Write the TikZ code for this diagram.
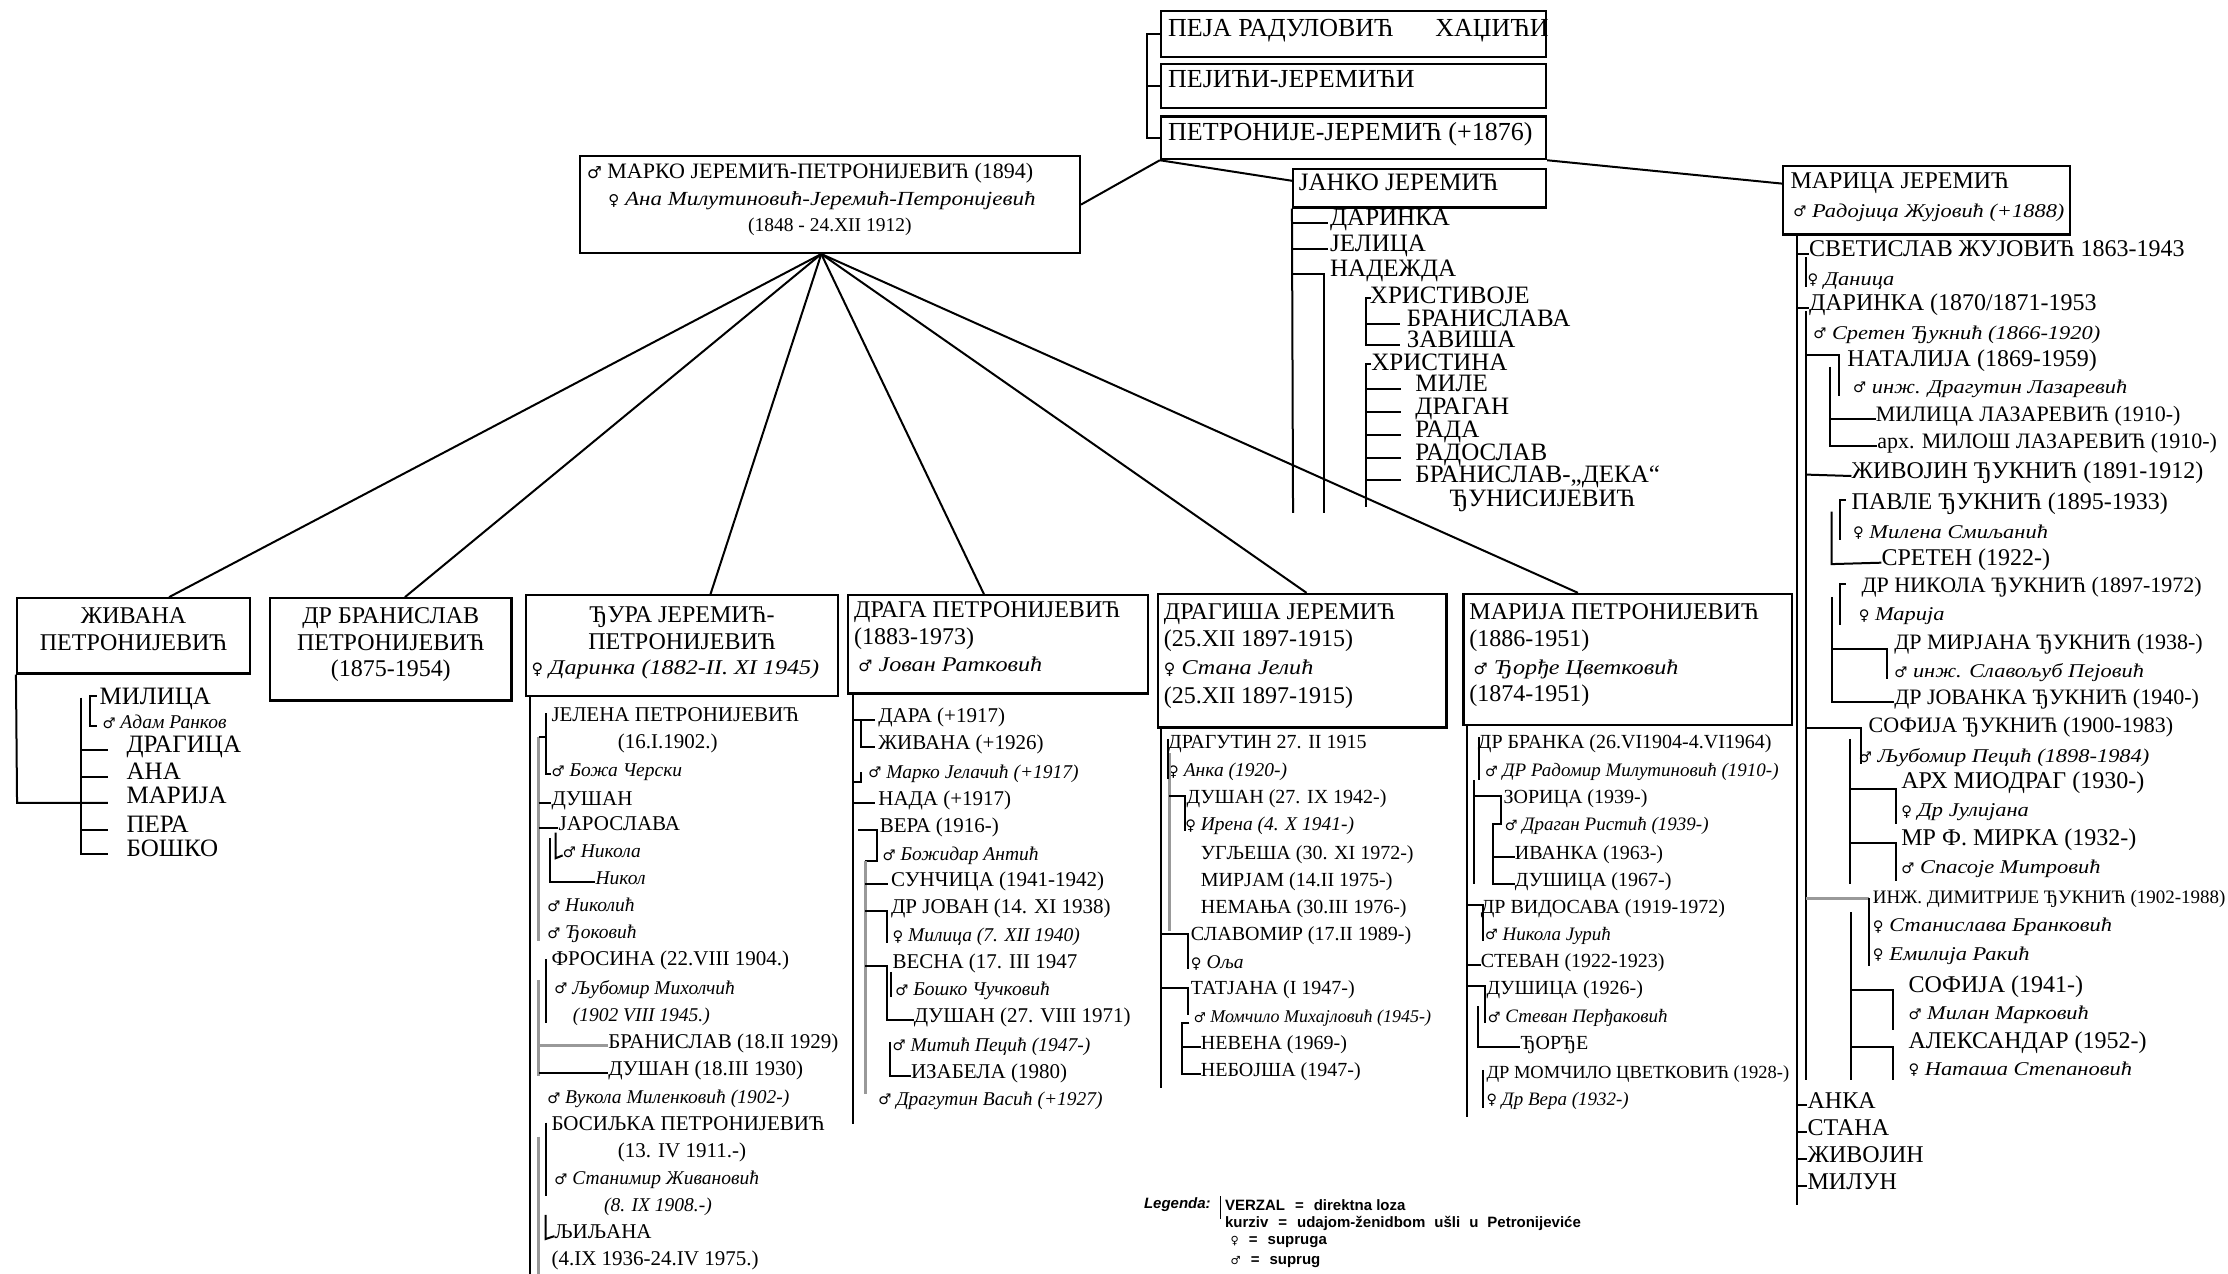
\documentclass[tikz,border=0pt]{standalone}
\usepackage{fontspec}
\usepackage{graphicx}
\setmainfont{Liberation Serif}
\newfontfamily\itf{Liberation Serif}[FakeStretch=1.15]
\newfontfamily\symf{DejaVu Sans}
\newfontfamily\legf{Liberation Sans}
\usetikzlibrary{fit,calc}
\newcommand{\zen}{\raisebox{0.05ex}{\scalebox{0.75}{\symf ♀}}}
\newcommand{\muz}{\raisebox{0.05ex}{\scalebox{0.75}{\symf ♂}}}
\tikzset{
  box/.style={draw, line width=2.2pt, inner sep=0pt},
  tx/.style={anchor=west, inner sep=0pt, text height=1.45ex, text depth=.35ex},
  nA/.style={tx, font=\fontsize{21}{21}\selectfont},
  nE/.style={tx, font=\fontsize{20}{20}\selectfont},
  sA/.style={tx, font=\fontsize{19.5}{19.5}\selectfont\itshape},
  nB/.style={tx, font=\fontsize{24}{24}\selectfont},
  nD/.style={tx, font=\fontsize{22}{22}\selectfont},
  nJ/.style={tx, font=\fontsize{25}{25}\selectfont},
  sB/.style={tx, font=\itf\fontsize{19.5}{19.5}\selectfont\itshape},
  nC/.style={tx, font=\fontsize{20}{20}\selectfont},
  nC2/.style={tx, font=\fontsize{19}{19}\selectfont},
  sC/.style={tx, font=\fontsize{19}{19}\selectfont\itshape},
  nX/.style={tx, font=\fontsize{24}{24}\selectfont},
  sX/.style={tx, font=\itf\fontsize{21}{21}\selectfont\itshape},
  nT/.style={tx, font=\fontsize{26}{26}\selectfont},
  ln/.style={line width=2pt},
  gl/.style={line width=3pt, black!40},
  lg/.style={anchor=west, inner sep=0pt, font=\legf\fontsize{15}{15}\selectfont\bfseries},
}
\begin{document}
\begin{tikzpicture}[x=1.421pt,y=-1.421pt]
\fill[white] (0,0) rectangle (1568,896);
\useasboundingbox (0,0) rectangle (1568,896);

% ---------- top boxes
\node[box, fit={(817,8)(1088,40)}] (b1) {};
\node[box, fit={(817,45)(1088,76)}] (b2) {};
\node[box, fit={(817,82)(1088,112)}] (b3) {};
\node[nT] (b1t) at (822,24) {ПЕЈА РАДУЛОВИЋ\hspace{42pt}ХАЏИЋИ};
\node[nT] (b2t) at (822,60) {ПЕЈИЋИ-ЈЕРЕМИЋИ};
\node[nT] (b3t) at (822,97) {ПЕТРОНИЈЕ-ЈЕРЕМИЋ (+1876)};
\draw[ln] (b1.west) -- ++(-9,0) |- (b3.west);
\draw[ln] (b2.west) -- ++(-9,0);

% ---------- Marko
\node[box, fit={(408,110)(760,178)}] (marko) {};
\node[tx, font=\fontsize{22}{22}\selectfont] (m1) at (413,124) {\muz\ МАРКО ЈЕРЕМИЋ-ПЕТРОНИЈЕВИЋ (1894)};
\node[tx, font=\itf\fontsize{20}{20}\selectfont\itshape] (m2) at (428,143) {\zen\ Ана Милутиновић-Јеремић-Петронијевић};
\node[tx, font=\fontsize{19.5}{19.5}\selectfont, anchor=center] (m3) at (584,161) {(1848 - 24.XII 1912)};

% ---------- Janko
\node[box, fit={(910,119)(1088,146)}] (janko) {};
\node[nJ] (jt) at (914,132) {ЈАНКО ЈЕРЕМИЋ};

% ---------- Marica
\node[box, fit={(1255,117)(1457,165)}] (marica) {};
\node[nB] (mt1) at (1260,131) {МАРИЦА ЈЕРЕМИЋ};
\node[sB] (mt2) at (1262,151) {\muz\ Радојица Жујовић (+1888)};

\draw[ln] (marko.east) -- (b3.south west);
\draw[ln] (b3.south west) -- ($(janko.north west)+(0,9)$);
\draw[ln] (b3.south east) -- ($(marica.north west)+(0,13)$);

% ---------- children boxes
\node[box, fit={(12,421)(176,474)}] (zivana) {};
\node[box, fit={(190,421)(360,493)}] (drbran) {};
\node[box, fit={(370,419)(590,490)}] (djura) {};
\node[box, fit={(597,419)(808,488)}] (draga) {};
\node[box, fit={(815,418)(1018,512)}] (dragisa) {};
\node[box, fit={(1030,418)(1261,510)}] (marija) {};

\coordinate (fan) at ($(marko.south)+(-6,0)$);
\draw[ln] (fan) -- ($(zivana.north)+(25,0)$);
\draw[ln] (fan) -- ($(drbran.north)+(10,0)$);
\draw[ln] (fan) -- ($(djura.north)+(20,0)$);
\draw[ln] (fan) -- ($(draga.north)+(-10,0)$);
\draw[ln] (fan) -- ($(dragisa.north)+(3,0)$);
\draw[ln] (fan) -- ($(marija.north)+(-35,0)$);

\node[nX, anchor=center] (zv1) at (94,437) {ЖИВАНА};
\node[nX, anchor=center] (zv2) at (94,456) {ПЕТРОНИЈЕВИЋ};
\node[nX, anchor=center] (db1) at (275,437) {ДР БРАНИСЛАВ};
\node[nX, anchor=center] (db2) at (275,456) {ПЕТРОНИЈЕВИЋ};
\node[nX, anchor=center] (db3) at (275,474) {(1875-1954)};
\node[nX, anchor=center] (dj1) at (480,436) {ЂУРА ЈЕРЕМИЋ-};
\node[nX, anchor=center] (dj2) at (480,455) {ПЕТРОНИЈЕВИЋ};
\node[sX] (dj3) at (374,473) {\zen\ Даринка (1882-II. XI 1945)};
\node[nX] (dr1) at (601,433) {ДРАГА ПЕТРОНИЈЕВИЋ};
\node[nX] (dr2) at (601,452) {(1883-1973)};
\node[sX] (dr3) at (604,471) {\muz\ Јован Ратковић};
\node[nX] (ds1) at (819,434) {ДРАГИША ЈЕРЕМИЋ};
\node[nX] (ds2) at (819,453) {(25.XII 1897-1915)};
\node[sX] (ds3) at (819,473) {\zen\ Стана Јелић};
\node[nX] (ds4) at (819,493) {(25.XII 1897-1915)};
\node[nX] (mj1) at (1034,434) {МАРИЈА ПЕТРОНИЈЕВИЋ};
\node[nX] (mj2) at (1034,453) {(1886-1951)};
\node[sX] (mj3) at (1037,473) {\muz\ Ђорђе Цветковић};
\node[nX] (mj4) at (1034,492) {(1874-1951)};

% ---------- Janko column
\node[nJ] (ja1) at (936,157) {ДАРИНКА};
\node[nJ] (ja2) at (936,175) {ЈЕЛИЦА};
\node[nJ] (ja3) at (936,193) {НАДЕЖДА};
\node[nJ] (ja4) at (964,212) {ХРИСТИВОЈЕ};
\node[nJ] (ja5) at (990,228) {БРАНИСЛАВА};
\node[nJ] (ja6) at (990,243) {ЗАВИША};
\node[nJ] (ja7) at (965,259) {ХРИСТИНА};
\node[nJ] (ja8) at (996,274) {МИЛЕ};
\node[nJ] (ja9) at (996,290) {ДРАГАН};
\node[nJ] (ja10) at (996,306) {РАДА};
\node[nJ] (ja11) at (996,322) {РАДОСЛАВ};
\node[nJ] (ja12) at (996,338) {БРАНИСЛАВ-„ДЕКА“};
\node[nJ] (ja13) at (1020,355) {ЂУНИСИЈЕВИЋ};
\coordinate (cx) at (961,0);
\draw[ln] (janko.south west) -- (910,361);
\foreach \n in {ja1,ja2} \draw[ln, shorten >=2pt] (\n.west -| janko.west) -- (\n.west);
\draw[ln] (ja3.west -| janko.west) -| (932,361);
\draw[ln] (965,210) -- (961,210) -- (961,243) -- ++(24,0);
\draw[ln, shorten >=7pt] (ja5.west -| cx) -- (ja5.west);
\draw[ln] (965,256) -- (961,256) -- (961,357);
\foreach \n in {ja8,ja9,ja10,ja11,ja12} \draw[ln, shorten >=14pt] (\n.west -| cx) -- (\n.west);

% ---------- Marica column
\node[nB] (mc1) at (1273,179) {СВЕТИСЛАВ ЖУЈОВИЋ 1863-1943};
\node[sB] (mc2) at (1272,199) {\zen\ Даница};
\node[nB] (mc3) at (1273,217) {ДАРИНКА (1870/1871-1953};
\node[sB] (mc4) at (1276,237) {\muz\ Сретен Ђукнић (1866-1920)};
\node[nB] (mc5) at (1300,256) {НАТАЛИЈА (1869-1959)};
\node[sB] (mc6) at (1304,275) {\muz\ инж. Драгутин Лазаревић};
\node[nD] (mc7) at (1320,295) {МИЛИЦА ЛАЗАРЕВИЋ (1910-)};
\node[nD] (mc8) at (1321,314) {арх. МИЛОШ ЛАЗАРЕВИЋ (1910-)};
\node[nB] (mc9) at (1303,335) {ЖИВОЈИН ЂУКНИЋ (1891-1912)};
\node[nB] (mc10) at (1303,357) {ПАВЛЕ ЂУКНИЋ (1895-1933)};
\node[sB] (mc11) at (1304,377) {\zen\ Милена Смиљанић};
\node[nB] (mc12) at (1324,396) {СРЕТЕН (1922-)};
\node[nD] (mc13) at (1310,415) {ДР НИКОЛА ЂУКНИЋ (1897-1972)};
\node[sB] (mc14) at (1308,435) {\zen\ Марија};
\node[nD] (mc15) at (1333,455) {ДР МИРЈАНА ЂУКНИЋ (1938-)};
\node[sB] (mc16) at (1333,475) {\muz\ инж. Славољуб Пејовић};
\node[nD] (mc17) at (1333,494) {ДР ЈОВАНКА ЂУКНИЋ (1940-)};
\node[nD] (mc18) at (1315,514) {СОФИЈА ЂУКНИЋ (1900-1983)};
\node[sB] (mc19) at (1308,535) {\muz\ Љубомир Пецић (1898-1984)};
\node[nB] (mc20) at (1338,553) {АРХ МИОДРАГ (1930-)};
\node[sB] (mc21) at (1338,573) {\zen\ Др Јулијана};
\node[nB] (mc22) at (1338,593) {МР Ф. МИРКА (1932-)};
\node[sB] (mc23) at (1338,613) {\muz\ Спасоје Митровић};
\node[nC2] (mc24) at (1318,634) {ИНЖ. ДИМИТРИЈЕ ЂУКНИЋ (1902-1988)};
\node[sB] (mc25) at (1318,654) {\zen\ Станислава Бранковић};
\node[sB] (mc26) at (1318,674) {\zen\ Емилија Ракић};
\node[nB] (mc27) at (1343,697) {СОФИЈА (1941-)};
\node[sB] (mc28) at (1343,716) {\muz\ Милан Марковић};
\node[nB] (mc29) at (1343,736) {АЛЕКСАНДАР (1952-)};
\node[sB] (mc30) at (1343,755) {\zen\ Наташа Степановић};
\node[nB] (mc31) at (1272,778) {АНКА};
\node[nB] (mc32) at (1272,797) {СТАНА};
\node[nB] (mc33) at (1272,816) {ЖИВОЈИН};
\node[nB] (mc34) at (1272,835) {МИЛУН};
\coordinate (mx) at (1265,0);
\draw[ln] (marica.south -| mx) -- (1265,848);
\foreach \n in {mc1,mc3,mc31,mc32,mc33,mc34} \draw[ln] (\n.west -| mx) -- (\n.west);
\draw[ln] (1271,181) -- (1271,202);
\draw[ln] (1271,219) -- (1271,760);
\draw[ln] (1271,250) -- (1294,250) -- (1294,279);
\draw[ln] (1288,258) -- (1288,314) -- (mc8.west);
\draw[ln] (1288,295) -- (mc7.west);
\draw[ln] (1271,334) -- (mc9.west);
\draw[ln] (1299,352) -- (1295,352) -- (1295,380);
\draw[ln] (1289,360) -- (1289,397) -- (mc12.west);
\draw[ln] (1299,411) -- (1295,411) -- (1295,440);
\draw[ln] (1289,420) -- (1289,494) -- (mc17.west);
\draw[ln] (1289,457) -- (1328,457) -- (1328,478);
\draw[ln] (1271,512) -- (1310,512) -- (1310,538);
\draw[ln] (1302,520) -- (1302,622);
\draw[ln] (1302,555) -- (1334,555) -- (1334,580);
\draw[ln] (1302,593) -- (1334,593) -- (1334,620);
\draw[gl] (1271,632) -- (1315,632);
\draw[ln] (1315,632) -- (1315,680);
\draw[ln] (1303,642) -- (1303,760);
\draw[ln] (1303,697) -- (1332,697) -- (1332,725);
\draw[ln] (1303,737) -- (1332,737) -- (1332,760);

% ---------- Zivana column
\node[nJ] (zm1) at (70,494) {МИЛИЦА};
\node[sA] (zm2) at (72,511) {\muz\ Адам Ранков};
\node[nJ] (zm3) at (89,528) {ДРАГИЦА};
\node[nJ] (zm4) at (89,547) {АНА};
\node[nJ] (zm5) at (89,564) {МАРИЈА};
\node[nJ] (zm6) at (89,584) {ПЕРА};
\node[nJ] (zm7) at (89,601) {БОШКО};
\coordinate (zx) at (57,0);
\draw[ln] (zivana.south west) -- (12,565) -- (76,565);
\draw[ln] (57,491) -- (57,601) -- (76,601);
\foreach \n in {zm3,zm4,zm6} \draw[ln, shorten >=18pt] (\n.west -| zx) -- (\n.west);
\draw[ln] (68,490) -- (63,490) -- (63,511) -- (68,511);

% ---------- Djura column
\node[nA] (u1) at (388,506) {ЈЕЛЕНА ПЕТРОНИЈЕВИЋ};
\node[nA, anchor=center] (u2) at (470,525) {(16.I.1902.)};
\node[sA] (u3) at (388,545) {\muz\ Божа Черски};
\node[nA] (u4) at (388,565) {ДУШАН};
\node[nA] (u5) at (393,583) {ЈАРОСЛАВА};
\node[sA] (u6) at (396,602) {\muz\ Никола};
\node[sA] (u7) at (419,621) {Никол};
\node[sA] (u8) at (385,640) {\muz\ Николић};
\node[sA] (u9) at (385,659) {\muz\ Ђоковић};
\node[nA] (u10) at (388,678) {ФРОСИНА (22.VIII 1904.)};
\node[sA] (u11) at (390,698) {\muz\ Љубомир Михолчић};
\node[sA] (u12) at (403,717) {(1902 VIII 1945.)};
\node[nA] (u13) at (428,736) {БРАНИСЛАВ (18.II 1929)};
\node[nA] (u14) at (428,755) {ДУШАН (18.III 1930)};
\node[sA] (u15) at (385,775) {\muz\ Вукола Миленковић (1902-)};
\node[nA] (u16) at (388,794) {БОСИЉКА ПЕТРОНИЈЕВИЋ};
\node[nA, anchor=center] (u17) at (480,813) {(13. IV 1911.-)};
\node[sA] (u18) at (390,832) {\muz\ Станимир Живановић};
\node[sA] (u19) at (425,851) {(8. IX 1908.-)};
\node[nA] (u20) at (390,870) {ЉИЉАНА};
\node[nA] (u21) at (388,889) {(4.IX 1936-24.IV 1975.)};
\draw[ln] (djura.south west) ++(4,0) -- ++(0,420);
\draw[gl] (379,519) -- (379,662);
\draw[gl] (379,690) -- (379,757);
\draw[gl] (379,800) -- (379,900);
\draw[ln] (384,502) -- (384,545) -- (u3.west);
\draw[ln] (379,519) -- (384,519);
\draw[ln] (379,565) -- (u4.west);
\draw[ln] (379,583) -- (u5.west);
\draw[ln] (391,586) -- (391,604) -- (u6.west);
\draw[ln] (387,590) -- (387,621) -- (u7.west);
\draw[ln] (384,675) -- (384,720);
\draw[gl] (379,736) -- (u13.west);
\draw[ln] (379,755) -- (u14.west);
\draw[ln] (384,790) -- (384,842);
\draw[ln] (384,855) -- (384,872) -- (u20.west);

% ---------- Draga column
\node[nA] (g1) at (618,507) {ДАРА (+1917)};
\node[nA] (g2) at (618,526) {ЖИВАНА (+1926)};
\node[sA] (g3) at (611,546) {\muz\ Марко Јелачић (+1917)};
\node[nA] (g4) at (618,565) {НАДА (+1917)};
\node[nA] (g5) at (619,584) {ВЕРА (1916-)};
\node[sA] (g6) at (621,604) {\muz\ Божидар Антић};
\node[nA] (g7) at (627,622) {СУНЧИЦА (1941-1942)};
\node[nA] (g8) at (627,641) {ДР ЈОВАН (14. XI 1938)};
\node[sA] (g9) at (628,661) {\zen\ Милица (7. XII 1940)};
\node[nA] (g10) at (628,680) {ВЕСНА (17. III 1947};
\node[sA] (g11) at (630,699) {\muz\ Бошко Чучковић};
\node[nA] (g12) at (643,718) {ДУШАН (27. VIII 1971)};
\node[sA] (g13) at (628,738) {\muz\ Митић Пецић (1947-)};
\node[nA] (g14) at (641,757) {ИЗАБЕЛА (1980)};
\node[sA] (g15) at (618,776) {\muz\ Драгутин Васић (+1927)};
\draw[ln] (draga.south west) ++(4,0) -- ++(0,302);
\draw[ln, shorten >=3pt] (601,507) -- (g1.west);
\draw[ln, shorten >=3pt] (606,507) -- (606,526) -- (g2.west);
\draw[ln] (601,550) -- (606,550) -- (606,543);
\draw[ln, shorten >=3pt] (601,565) -- (g4.west);
\draw[ln] (604,584) -- (617,584) -- (617,606) -- (609,606);
\draw[gl] (609,606) -- (609,770);
\draw[ln, shorten >=3pt] (609,622) -- (g7.west);
\draw[ln] (609,641) -- (624,641) -- (624,664);
\draw[ln] (609,680) -- (624,680) -- (624,718) -- (g12.west);
\draw[ln] (627,684) -- (627,702);
\draw[ln] (626,733) -- (626,757) -- (g14.west);

% ---------- Dragisa column
\node[nE] (s1) at (822,525) {ДРАГУТИН 27. II 1915};
\node[sA] (s2) at (822,545) {\zen\ Анка (1920-)};
\node[nE] (s3) at (835,564) {ДУШАН (27. IX 1942-)};
\node[sA] (s4) at (834,583) {\zen\ Ирена (4. X 1941-)};
\node[nE] (s5) at (845,603) {УГЉЕША (30. XI 1972-)};
\node[nE] (s6) at (845,622) {МИРЈАМ (14.II 1975-)};
\node[nE] (s7) at (845,641) {НЕМАЊА (30.III 1976-)};
\node[nE] (s8) at (838,660) {СЛАВОМИР (17.II 1989-)};
\node[sA] (s9) at (838,680) {\zen\ Оља};
\node[nE] (s10) at (838,698) {ТАТЈАНА (I 1947-)};
\node[tx, font=\fontsize{18}{18}\selectfont\itshape] (s11) at (840,718) {\muz\ Момчило Михајловић (1945-)};
\node[nE] (s12) at (845,737) {НЕВЕНА (1969-)};
\node[nE] (s13) at (845,756) {НЕБОЈША (1947-)};
\draw[ln] (dragisa.south west) ++(3,0) -- ++(0,253);
\draw[gl] (823,530) -- (823,655);
\draw[ln] (822,520) -- (822,548);
\draw[ln] (823,560) -- (834,560) -- (834,585);
\draw[ln] (818,657) -- (836,657) -- (836,682);
\draw[ln] (818,695) -- (836,695) -- (836,714);
\draw[ln] (837,720) -- (832,720) -- (832,756) -- (s13.west);
\draw[ln] (832,737) -- (s12.west);

% ---------- Marija column
\node[nC] (r1) at (1040,525) {ДР БРАНКА (26.VI1904-4.VI1964)};
\node[sC] (r2) at (1045,545) {\muz\ ДР Радомир Милутиновић (1910-)};
\node[nC] (r3) at (1058,564) {ЗОРИЦА (1939-)};
\node[sC] (r4) at (1059,583) {\muz\ Драган Ристић (1939-)};
\node[nC] (r5) at (1066,603) {ИВАНКА (1963-)};
\node[nC] (r6) at (1066,622) {ДУШИЦА (1967-)};
\node[nC] (r7) at (1042,641) {ДР ВИДОСАВА (1919-1972)};
\node[sC] (r8) at (1045,660) {\muz\ Никола Јурић};
\node[nC] (r9) at (1042,679) {СТЕВАН (1922-1923)};
\node[nC] (r10) at (1046,698) {ДУШИЦА (1926-)};
\node[sC] (r11) at (1047,718) {\muz\ Стеван Перђаковић};
\node[nC] (r12) at (1070,737) {ЂОРЂЕ};
\node[tx, font=\fontsize{18.5}{18.5}\selectfont] (r13) at (1046,757) {ДР МОМЧИЛО ЦВЕТКОВИЋ (1928-)};
\node[sC] (r14) at (1046,776) {\zen\ Др Вера (1932-)};
\draw[ln] (marija.south west) ++(3,0) -- ++(0,275);
\draw[ln] (1041,519) -- (1041,549);
\draw[ln] (1037,549) -- (1037,622);
\draw[ln] (1037,560) -- (1056,560) -- (1056,580) -- (1051,580) -- (1051,622) -- (r6.west);
\draw[ln] (1051,603) -- (r5.west);
\draw[ln] (1033,637) -- (1044,637) -- (1044,662);
\draw[ln] (1033,679) -- (r9.west);
\draw[ln] (1033,694) -- (1045,694) -- (1045,720);
\draw[ln] (1040,708) -- (1040,737) -- (r12.west);
\draw[ln] (1044,753) -- (1044,780);

% ---------- legend
\node[lg, font=\legf\fontsize{15}{15}\selectfont\bfseries\itshape] (lg0) at (805,848) {Legenda:};
\draw[line width=1.2pt] (859,842) -- (859,858);
\node[lg] (lg1) at (862,848) {VERZAL\hspace{10pt}=\hspace{10pt}direktna loza};
\node[lg] (lg2) at (862,861) {kurziv\hspace{10pt}=\hspace{10pt}udajom-ženidbom\hspace{9pt}ušli\hspace{9pt}u\hspace{9pt}Petronijeviće};
\node[lg] (lg3) at (866,874) {\zen\hspace{10pt}=\hspace{10pt}supruga};
\node[lg] (lg4) at (866,888) {\muz\hspace{10pt}=\hspace{10pt}suprug};
\end{tikzpicture}
\end{document}
